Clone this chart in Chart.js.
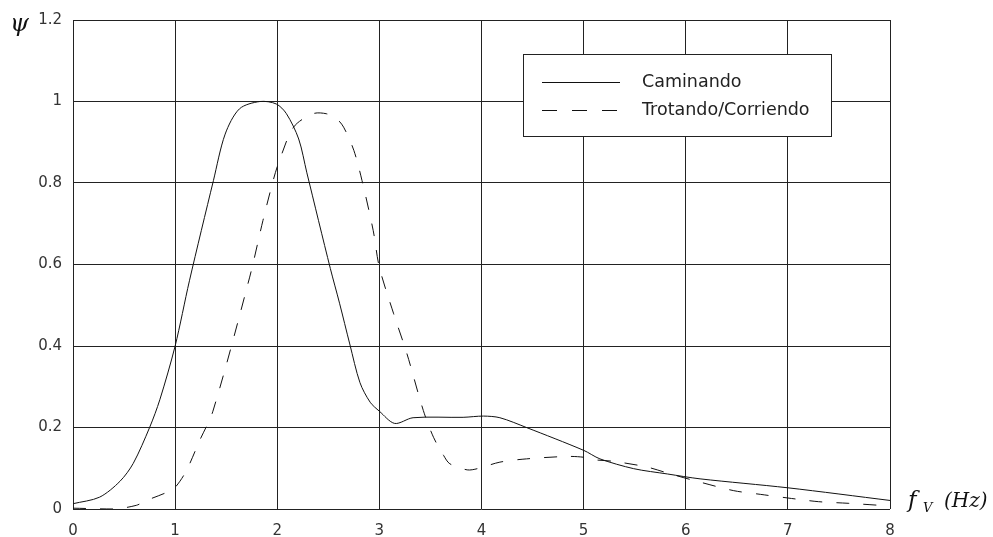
<!DOCTYPE html>
<html>
<head>
<meta charset="utf-8">
<script src="https://cdn.jsdelivr.net/npm/chart.js@4.4.1/dist/chart.umd.min.js"></script>
<style>
  html, body { margin: 0; padding: 0; background: #fff; }
  #wrap { width: 993px; height: 537px; position: relative; }
</style>
</head>
<body>
<div id="wrap"><canvas id="chart"></canvas></div>
<script>
// CAMINANDO (linea continua)
const walkX = [0, 0.26, 0.46, 0.59, 0.75, 0.85, 1.0, 1.14, 1.375, 1.49, 1.63, 1.83, 1.99, 2.09, 2.21, 2.29, 2.52, 2.61, 2.71, 2.81, 2.91, 3.0, 3.15, 3.33, 3.82, 4.02, 4.18, 4.44, 5.0, 5.16, 5.49, 5.82, 6.14, 7.0, 8.0]
const walkY = [0.013, 0.029, 0.068, 0.112, 0.2, 0.268, 0.4, 0.56, 0.806, 0.92, 0.982, 1.0, 0.994, 0.97, 0.908, 0.825, 0.59, 0.505, 0.405, 0.31, 0.262, 0.24, 0.21, 0.224, 0.225, 0.228, 0.224, 0.2, 0.144, 0.123, 0.099, 0.086, 0.074, 0.052, 0.021]

// TROTANDO / CORRIENDO (linea discontinua)
const runX = [0, 0.4, 0.62, 0.72, 0.92, 1.0, 1.11, 1.24, 1.37, 1.73, 1.86, 1.96, 2.01, 2.16, 2.35, 2.48, 2.58, 2.65, 2.75, 2.83, 2.94, 3.0, 3.14, 3.27, 3.43, 3.53, 3.63, 3.69, 3.86, 3.96, 4.18, 4.44, 4.84, 5.0, 5.1, 5.29, 5.62, 5.85, 6.14, 6.47, 6.73, 7.0, 7.3, 7.59, 7.9, 8.0]
const runY = [0.002, 0.0, 0.009, 0.021, 0.041, 0.053, 0.094, 0.168, 0.24, 0.569, 0.708, 0.806, 0.847, 0.937, 0.97, 0.97, 0.958, 0.937, 0.88, 0.806, 0.683, 0.593, 0.479, 0.381, 0.242, 0.176, 0.131, 0.111, 0.096, 0.099, 0.115, 0.123, 0.129, 0.127, 0.121, 0.117, 0.103, 0.086, 0.066, 0.045, 0.036, 0.027, 0.018, 0.014, 0.009, 0.007]

// TICKS
const xTicks = [0, 1, 2, 3, 4, 5, 6, 7, 8]
const xTickLabels = ["0", "1", "2", "3", "4", "5", "6", "7", "8"]
const yTicks = [0, 0.2, 0.4, 0.6, 0.8, 1, 1.2]
const yTickLabels = ["0", "0.2", "0.4", "0.6", "0.8", "1", "1.2"]

const seriesNames = ["Caminando", "Trotando/Corriendo"]

const toPoints = (xs, ys) => xs.map((x, i) => ({ x: x, y: ys[i] }))

const gridColor = "#222"
const tickFont = { family: "DejaVu Sans", size: 15 }

// legend + axis titles drawn on top
const overlay = {
    id: "overlay",
    afterDraw(chart) {
        const ctx = chart.ctx
        ctx.save()

        // LEGEND BOX
        const bx = 523.5, by = 54.5, bw = 308, bh = 82
        ctx.fillStyle = "#fff"
        ctx.fillRect(bx, by, bw, bh)
        ctx.strokeStyle = gridColor
        ctx.lineWidth = 1
        ctx.strokeRect(bx, by, bw, bh)

        const rows = [82.5, 110.5]
        const sampleDash = [15, 15]
        chart.data.datasets.forEach((ds, i) => {
            ctx.strokeStyle = "#111"
            ctx.lineWidth = 1
            ctx.setLineDash(ds.borderDash ? sampleDash : [])
            ctx.beginPath()
            ctx.moveTo(542, rows[i])
            ctx.lineTo(620, rows[i])
            ctx.stroke()
            ctx.setLineDash([])
            ctx.fillStyle = "#222"
            ctx.font = "17.5px 'DejaVu Sans'"
            ctx.textBaseline = "middle"
            ctx.textAlign = "left"
            ctx.fillText(ds.label, 642, rows[i])
        })

        // AXIS TITLES
        ctx.fillStyle = "#111"
        ctx.textBaseline = "alphabetic"
        ctx.font = "italic 24px 'DejaVu Serif'"
        ctx.fillText("\u03C8", 10, 31)

        ctx.font = "italic 23px 'DejaVu Serif'"
        ctx.fillText("f", 908, 507)
        ctx.font = "italic 13px 'DejaVu Serif'"
        ctx.fillText("V", 923, 512)
        ctx.font = "italic 20px 'DejaVu Serif'"
        ctx.fillText("(Hz)", 944, 507)

        ctx.restore()
    }
}

new Chart(document.getElementById("chart"), {
    type: "scatter",
    data: {
        datasets: [
            {
                label: seriesNames[0],
                data: toPoints(walkX, walkY),
                showLine: true,
                borderColor: "#111",
                borderWidth: 1,
                pointRadius: 0,
                tension: 0.3
            },
            {
                label: seriesNames[1],
                data: toPoints(runX, runY),
                showLine: true,
                borderColor: "#111",
                borderWidth: 1,
                borderDash: [13, 14],
                pointRadius: 0,
                tension: 0.3
            }
        ]
    },
    options: {
        responsive: true,
        maintainAspectRatio: false,
        animation: false,
        layout: {
            padding: { top: 20, right: 103, left: 0, bottom: 0 }
        },
        plugins: {
            legend: { display: false },
            tooltip: { enabled: false }
        },
        scales: {
            x: {
                type: "linear",
                min: 0,
                max: 8,
                afterBuildTicks: axis => { axis.ticks = xTicks.map(v => ({ value: v })) },
                afterFit: axis => { axis.height = 28 },
                ticks: {
                    color: "#333",
                    font: tickFont,
                    padding: 13,
                    maxRotation: 0,
                    callback: (v, i) => xTickLabels[i]
                },
                grid: { color: gridColor, lineWidth: 1, drawTicks: false },
                border: { display: false }
            },
            y: {
                type: "linear",
                min: 0,
                max: 1.2,
                afterBuildTicks: axis => { axis.ticks = yTicks.map(v => ({ value: v })) },
                afterFit: axis => { axis.width = 73 },
                ticks: {
                    color: "#333",
                    font: tickFont,
                    padding: 11,
                    callback: (v, i) => yTickLabels[i]
                },
                grid: { color: gridColor, lineWidth: 1, drawTicks: false },
                border: { display: false }
            }
        }
    },
    plugins: [overlay]
})
</script>
</body>
</html>
